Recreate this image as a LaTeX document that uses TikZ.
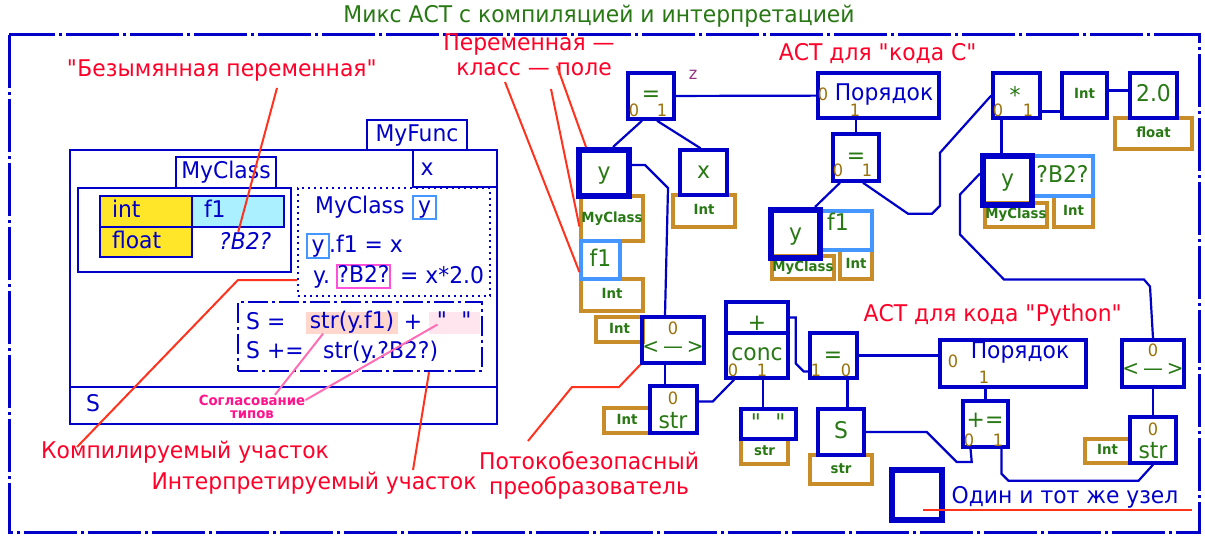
\documentclass[tikz,border=0pt]{standalone}
\usepackage{fontspec}
\setmainfont{DejaVu Sans}[FakeStretch=0.95]
\usetikzlibrary{calc}
\definecolor{cblue}{RGB}{0,0,200}
\definecolor{cgreen}{RGB}{40,120,20}
\definecolor{cbrown}{RGB}{200,140,40}
\definecolor{cidx}{RGB}{155,112,10}
\definecolor{cred}{RGB}{255,0,40}
\definecolor{clead}{RGB}{255,50,30}
\definecolor{clight}{RGB}{70,150,255}
\definecolor{cmag}{RGB}{255,80,220}
\definecolor{cpink}{RGB}{255,20,140}
\definecolor{cpinkl}{RGB}{255,110,180}
\definecolor{cyel}{RGB}{255,230,40}
\definecolor{ccyan}{RGB}{170,240,255}
\definecolor{cpeach}{RGB}{255,215,205}
\definecolor{crose}{RGB}{255,230,238}
\definecolor{cviolet}{RGB}{150,50,130}
\newcommand\fntL{\fontsize{23}{25}\selectfont}
\newcommand\fntI{\fontsize{17}{19}\selectfont}
\newcommand\fntS{\fontsize{14}{16}\selectfont\bfseries}
\newcommand\qq{\textquotedbl}

\begin{document}
\begin{tikzpicture}[x=1pt,y=-1pt,sz/.style 2 args={minimum width=#1,minimum height=#2},
 ast/.style={draw=cblue,line width=3.5pt,inner sep=0pt,text=cgreen,font=\fntL,text height=17pt,text depth=5pt},
 same/.style={ast,line width=6pt},
 typ/.style={draw=cbrown,line width=3.2pt,inner sep=0pt,text=cgreen,font=\fntS,text height=10pt,text depth=3pt},
 fld/.style={draw=clight,line width=3.2pt,inner sep=0pt,text=cgreen,font=\fntL,text height=17pt,text depth=5pt},
 sym/.style={inner sep=0pt,text=cgreen,font=\fntL,text height=17pt,text depth=5pt},
 op/.style={inner sep=0pt,text=cgreen,font=\fntL,text height=13pt,text depth=0pt},
 cmp/.style={op,font=\fontsize{21}{21}\selectfont,text height=11pt},
 idx/.style={inner sep=0pt,text=cidx,font=\fntI,text height=12.4pt,text depth=0pt},
 note/.style={inner sep=0pt,text=cred,font=\fntL,text height=17pt,text depth=5pt},
 src/.style={inner sep=0pt,text=cblue,font=\fntL,text height=17pt,text depth=5pt},
 cell/.style={draw=cblue,line width=2.8pt,sz={92}{31},inner xsep=12pt,inner ysep=0pt,text width=68pt,align=left,text=cblue,font=\fntL,text height=17pt,text depth=5pt},
 wire/.style={cblue,line width=2.2pt},lead/.style={clead,line width=2pt},agree/.style={cpinkl,line width=2pt},frame/.style={cblue,line width=2.8pt}]
\fill[white] (0,0) rectangle (1205,543); \useasboundingbox (0,0) rectangle (1205,543);
\draw[frame,line width=3pt,dash pattern=on 53pt off 4pt on 3pt off 4pt] (9,35) rectangle (1199,532);
\node[sym] (title) at (599,17) {Микс АСТ с компиляцией и интерпретацией};
\draw[frame] (70,150) rectangle (497,424) (70,387) -- (497,387) (413,150) -- (413,187) -- (497,187);
\node[src,draw=cblue,line width=2.8pt,sz={100}{30}] (fnTab) at (417,135) {MyFunc};
\node[src] (fnX) at (427,169) {x}; \node[src] (fnS) at (93,405) {S};
\node[src,draw=cblue,line width=2.8pt,sz={100}{31}] (clsTab) at (226,172.5) {MyClass};
\draw[frame] (78,188) rectangle (291,272);
\node[cell,fill=cyel] (cInt) at (146,211.5) {int}; \node[cell,fill=ccyan] (cF1) at (238,211.5) {f1}; \node[cell,fill=cyel,minimum height=30] (cFlt) at (146,242) {float};
\node[src,anchor=west,font=\fntL\itshape] (b2t) at (219,243) {?B2?};
\node[draw=cblue,line width=2pt,dash pattern=on 2pt off 4pt,sz={192}{108}] (inst) at (394,242) {};
\node[src,anchor=west] (instT) at (315,207) {MyClass};
\node[src,draw=clight,line width=1.5pt,sz={23}{23}] (yb1) at (424.5,207.5) {y}; \node[src,draw=clight,line width=1.5pt,sz={22}{24}] (yb2) at (318,246) {y};
\node[src,anchor=west] (asg1) at (329,246) {.f1 = x}; \node[src,anchor=west] (asg2) at (313,277) {y.};
\node[src,draw=cmag,line width=2pt,sz={53}{23}] (pb) at (363.5,276.5) {?B2?}; \node[src,anchor=west] (asg3) at (400,277) {= x*2.0};
\node[draw=cblue,line width=2.5pt,dash pattern=on 20pt off 4pt on 3pt off 4pt,sz={244}{69}] (dyn) at (360,336.5) {};
\node[src,fill=cpeach,sz={92}{21}] (hlA) at (352,322.5) {str(y.f1)}; \node[src,fill=crose,sz={51}{21}] (hlB) at (454.5,322.5) {\qq\ \ \qq};
\node[src,anchor=west] (ln1) at (246,323) {S =}; \node[src] (plus1) at (413,323) {+};
\node[src,anchor=west] (ln2a) at (246,352) {S +=}; \node[src,anchor=west] (ln2b) at (323,352) {str(y.?B2?)};
\node[note] (lblAnon) at (222,71) {\qq Безымянная переменная\qq};
\node[note] (lblVar1) at (529,45) {Переменная —}; \node[note] (lblVar2) at (534,70) {класс — поле};
\node[note] (lblC) at (878,55) {АСТ для \qq кода С\qq}; \node[note] (lblPy) at (993,315) {АСТ для кода \qq Python\qq};
\node[note] (lblComp) at (185,452) {Компилируемый участок}; \node[note] (lblInt) at (314,483) {Интерпретируемый участок};
\node[note] (lblSafe1) at (589,463) {Потокобезопасный}; \node[note] (lblSafe2) at (589,488) {преобразователь};
\node[inner sep=0pt,text=cpink,font=\fntS,text height=10pt,text depth=0pt] (agr1) at (252,400) {Согласование};
\node[inner sep=0pt,text=cpink,font=\fntS,text height=10pt,text depth=0pt] (agr2) at (252,413) {типов};
\node[draw=cblue,line width=6pt,sz={50}{50}] (sqSame) at (917,495) {}; \node[src] (lblSame) at (1065,497) {Один и тот же узел};
\node[typ,sz={77}{31}] (fltA) at (1153.5,133.5) {float}; \node[typ,sz={62}{45}] (clsA) at (612,218.5) {MyClass};
\node[typ,sz={62}{32}] (intB) at (612,295) {Int}; \node[typ,sz={62}{32}] (intC) at (704,211) {Int};
\node[typ,sz={62}{23}] (clsB) at (803,267.5) {MyClass}; \node[typ,sz={32}{29}] (intG) at (856,264.5) {Int};
\node[typ,sz={62}{24}] (clsC) at (1016,215) {MyClass}; \node[typ,sz={39}{31}] (intH) at (1073.5,211.5) {Int};
\node[typ,sz={47}{25}] (intF) at (619.5,329.5) {Int}; \node[typ,sz={46}{25}] (intE) at (627,420.5) {Int};
\node[typ,sz={47}{25}] (spT) at (764.5,451.5) {str}; \node[typ,sz={62}{29}] (sT) at (841,469.5) {str};
\node[typ,sz={45}{24}] (intD) at (1107.5,451) {Int};
\node[fld,sz={39}{38}] (f1A) at (600.5,260) {f1}; \node[fld,sz={52}{39}] (f1B) at (846,230.5) {}; \node[fld,sz={61}{40}] (b2C) at (1062.5,176) {?B2?};
\node[same,sz={50}{46}] (yA) at (604,173) {y}; \node[ast,sz={47}{45}] (xA) at (703.5,172.5) {x};
\node[same,sz={49}{48}] (yB) at (795.5,234) {y}; \node[same,sz={49}{49}] (yC) at (1007.5,180.5) {y};
\node[ast,sz={46}{46}] (eqA) at (651,96) {}; \node[ast,sz={121}{45}] (ordA) at (878.5,95.5) {}; \node[ast,sz={46}{47}] (eqB) at (856,157.5) {};
\node[ast,sz={47}{45}] (mulA) at (1016.5,95.5) {}; \node[ast,sz={45}{45},font=\fntS,text height=10pt,text depth=3pt] (intA) at (1084.5,95.5) {Int}; \node[ast,sz={47}{45}] (numA) at (1153.5,95.5) {2.0};
\node[ast,sz={62}{46}] (neL) at (673,340) {}; \node[ast,sz={47}{47}] (strL) at (673.5,409.5) {};
\node[ast,sz={62}{31},text height=25pt,text depth=0pt] (plusA) at (757,317.5) {+}; \node[ast,sz={62}{45}] (concA) at (757,355.5) {};
\node[ast,sz={55}{30}] (spA) at (768.5,424) {\qq\ \ \qq}; \node[ast,sz={47}{45}] (eqC) at (833.5,355.5) {}; \node[ast,sz={46}{46}] (sA) at (841,432) {S};
\node[ast,sz={146}{47}] (ordB) at (1013,363.5) {}; \node[ast,sz={45}{46}] (pleq) at (985.5,424) {};
\node[ast,sz={62}{47}] (neR) at (1153,363.5) {}; \node[ast,sz={46}{46}] (strR) at (1153,440) {};
\node[op] (eqAs) at (651,94.5) {=}; \node[idx] (eqA0) at (634,110) {0}; \node[idx] (eqA1) at (662,110) {1}; \node[idx,text=cviolet] (zA) at (693,73) {z};
\node[idx] (ordA0) at (823,94) {0}; \node[src,text depth=3pt] (ordAs) at (884,93) {Порядок}; \node[idx] (ordA1) at (855,110.5) {1};
\node[op] (eqBs) at (856,156.5) {=}; \node[idx] (eqB0) at (838,170.5) {0}; \node[idx] (eqB1) at (867,170.5) {1};
\node[op] (mulAs) at (1015,96.5) {*}; \node[idx] (mulA0) at (998,110) {0}; \node[idx] (mulA1) at (1028,110) {1};
\node[sym] (f1Bs) at (838,224) {f1};
\node[op] (concAs) at (757,353.5) {conc}; \node[idx] (concA0) at (733,370.5) {0}; \node[idx] (concA1) at (762,370.5) {1};
\node[op] (eqCs) at (833,355.5) {=}; \node[idx] (eqC1) at (816,370.5) {1}; \node[idx] (eqC0) at (846,370.5) {0};
\node[idx] (neL0) at (673,328.5) {0}; \node[cmp] (neLs) at (673,348) {<\kern4pt—\kern4pt>};
\node[idx] (strL0) at (673,398.5) {0}; \node[op] (strLs) at (673,421.5) {str};
\node[idx] (neR0) at (1153,350.5) {0}; \node[cmp] (neRs) at (1153,369.5) {<\kern4pt—\kern4pt>};
\node[idx] (strR0) at (1153,429.5) {0}; \node[op] (strRs) at (1153,452) {str};
\node[idx] (ordB0) at (953,361) {0}; \node[src] (ordBs) at (1020,352) {Порядок}; \node[idx] (ordB1) at (984,377.5) {1};
\node[op] (pleqs) at (985,421) {+=}; \node[idx] (pleq0) at (969,440) {0}; \node[idx] (pleq1) at (998,440) {1};
\draw[wire] (eqA) -- (ordA); \draw[wire] ([xshift=-9]eqA.south) -- ([xshift=9]yA.north); \draw[wire] ([xshift=6]eqA.south) -- ([xshift=-3]xA.north);
\draw[wire] (ordA.south -| eqB.north) -- (eqB.north); \draw[wire] ([xshift=-16]eqB.south) -- ([xshift=-8]yB.north east);
\draw[wire] ([xshift=7]eqB.south) -- ++(45,31) -- ++(24,0) -- ++(8,-8) -- ++(0,-53) -- (mulA.west);
\draw[wire] ([yshift=-16]mulA.east) -- ([yshift=-16]intA.west); \draw[wire] ([yshift=5]intA.east) -- ([yshift=5]numA.west);
\draw[wire] ([xshift=-15]mulA.south) -- ([xshift=-15]mulA.south |- yC.north);
\draw[wire] ([yshift=7]yC.west) -- ++(-20,21) -- ++(0,40) -- ++(44,45) -- ++(140,0) -- ++(6,7) -- (neR.north);
\draw[wire] ([yshift=8]yA.east) -- ++(13,0) -- ++(23,23) -- ([xshift=-8]neL.north);
\draw[wire] ([xshift=-8]neL.south) -- ([xshift=-8]neL.south |- strL.north); \draw[wire] ([yshift=8]strL.east) -- ++(14,0) -- ([xshift=-23]concA.south);
\draw[wire] ([xshift=6]concA.south) -- ([xshift=6]concA.south |- spA.north); \draw[wire] (plusA.east) -- ++(6,0) -- ++(0,46) -- ++(8,8) -- ([yshift=-16]eqC.west);
\draw[wire] (eqC.east) -- (eqC.east -| ordB.west); \draw[wire] ([xshift=14]eqC.south) -- ([xshift=14]eqC.south |- sA.north);
\draw[wire] (sA.east) -- ++(61,0) -- ++(30,30) -- ++(15,0) -- ([xshift=-15]pleq.south); \draw[wire] (ordB.south -| pleq.north) -- (pleq.north);
\draw[wire] ([xshift=16]pleq.south) -- ++(0,25) -- ++(7,7) -- ++(130,0) -- (strR.south); \draw[wire] (neR) -- (strR);
\coordinate (pAnon) at (277,88); \coordinate (pVar1) at (557,66); \coordinate (pVar2) at (551,89); \coordinate (pVar3) at (505,82);
\coordinate (pComp) at (77,447); \coordinate (pInt) at (413,470); \coordinate (pSafe) at (528,441);
\draw[lead] (pAnon) -- ([xshift=-7]b2t.north); \draw[lead] (pVar1) -- ([xshift=10]yA.north west); \draw[lead] (pVar2) -- ([yshift=-8]clsA.west); \draw[lead] (pVar3) -- ([yshift=-12]f1A.west);
\draw[lead] (pComp) -- ++(161,-167) -- ([yshift=-38]inst.west); \draw[lead] (pInt) -- ([xshift=69]dyn.south); \draw[lead] (pSafe) -- ++(44,-54) -- ++(47,0) -- (neL.south west);
\draw[agree] ([xshift=23]agr1.north) -- ([xshift=-29]hlA.south); \draw[agree] (agr1.east) -- ([shift={(-17,2)}]hlB.center);
\draw[lead] ([shift={(6,15)}]sqSame.center) -- ++(269,0);
\end{tikzpicture}
\end{document}
